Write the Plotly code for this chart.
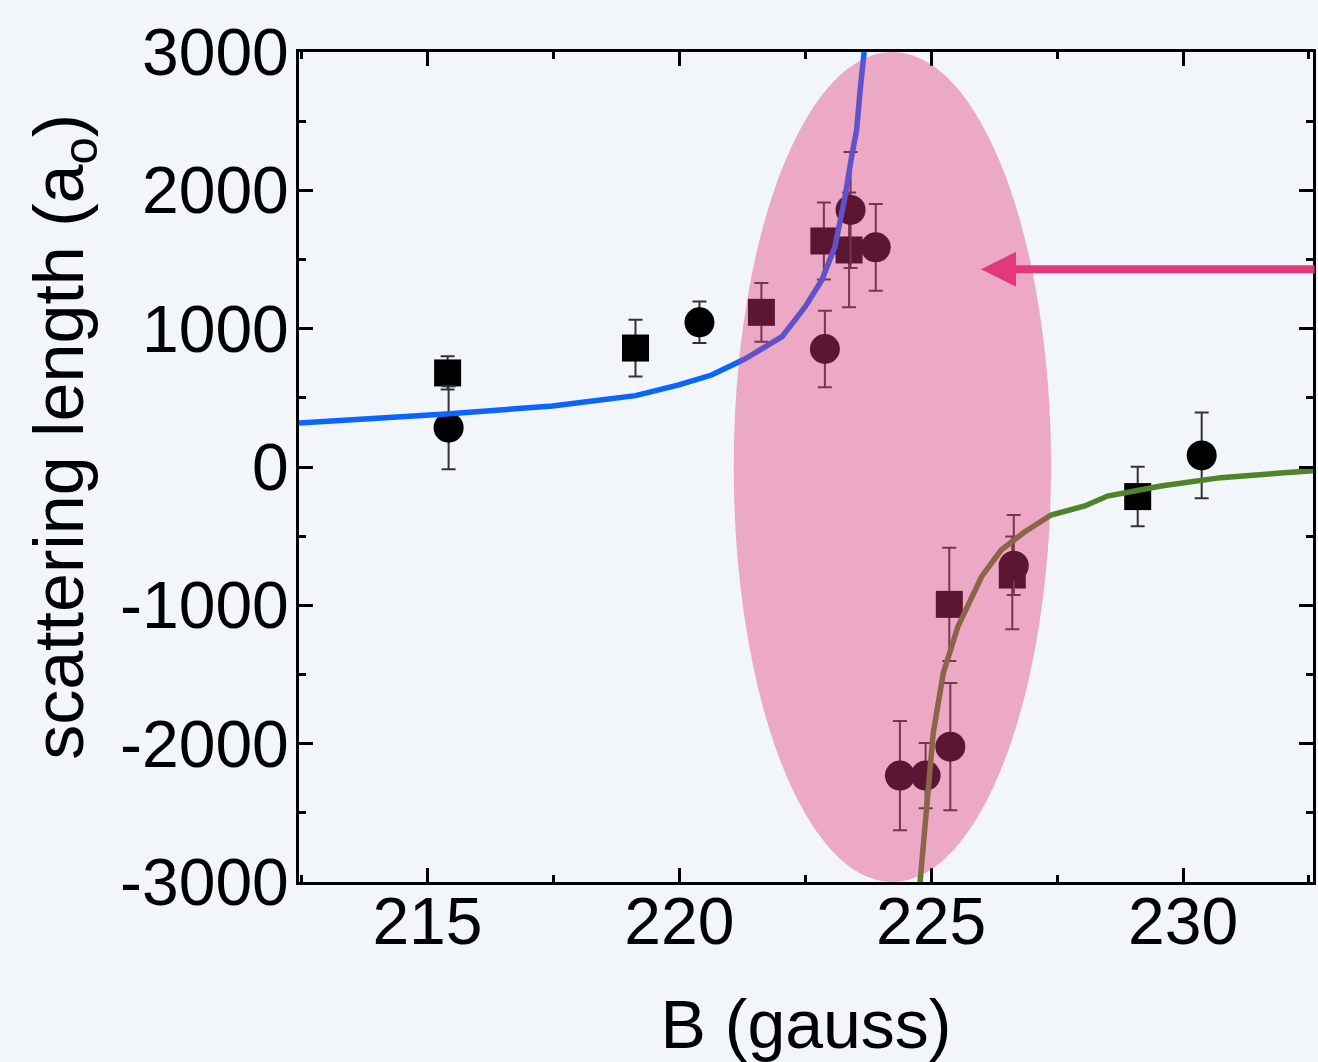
import plotly.graph_objects as go

# ---- data ----
sq_B = [215.40, 219.13, 221.63, 222.87, 223.37, 225.36, 226.61, 229.10]
sq_a = [680, 860, 1118, 1634, 1569, -993, -781, -214]
sq_err_plus = [120, 205, 212, 278, 415, 410, 278, 215]
sq_err_minus = [120, 205, 212, 278, 415, 410, 392, 215]

ci_B = [215.42, 220.40, 222.89, 223.40, 223.90, 225.38, 224.38, 224.89, 226.64, 230.37]
ci_a = [284, 1046, 853, 1858, 1588, -2022, -2231, -2231, -713, 84]
ci_err_plus = [300, 150, 276, 420, 314, 460, 395, 235, 366, 310]
ci_err_minus = [300, 150, 276, 420, 314, 460, 395, 235, 213, 310]

blue_B = [212.45, 214.05, 215.37, 217.48, 219.13, 219.99, 220.64, 221.30, 222.04,
          222.50, 222.83, 223.09, 223.29, 223.42, 223.52, 223.59, 223.67]
blue_a = [318, 354, 383, 441, 516, 593, 665, 780, 942,
          1159, 1352, 1593, 1954, 2243, 2436, 2725, 3000]

green_B = [224.78, 224.91, 225.04, 225.24, 225.53, 226.00, 226.39, 226.86, 227.38,
           228.05, 228.50, 229.56, 230.75, 231.87, 232.58]
green_a = [-3000, -2407, -1925, -1491, -1154, -793, -600, -468, -347,
           -282, -210, -137, -77, -46, -27]

x_ticks = [215, 220, 225, 230]
x_ticktext = ["215", "220", "225", "230"]
y_ticks = [-3000, -2000, -1000, 0, 1000, 2000, 3000]
y_ticktext = ["-3000", "-2000", "-1000", "0", "1000", "2000", "3000"]

x_range = [212.45, 232.58]
y_range = [-3000, 3000]
ellipse_B = [221.08, 227.38]
arrow_tip = (225.99, 1429)

FONT = "Liberation Sans, Arial, Helvetica, sans-serif"
BG = "#f2f5f9"
PINK = "#e3387a"

fig = go.Figure()

err_style = dict(type="data", symmetric=False, color="#333333", thickness=2, width=7)

fig.add_trace(go.Scatter(
    x=sq_B, y=sq_a, mode="markers",
    marker=dict(symbol="square", size=27, color="black"),
    error_y=dict(array=sq_err_plus, arrayminus=sq_err_minus, **err_style),
    showlegend=False, cliponaxis=False))

fig.add_trace(go.Scatter(
    x=ci_B, y=ci_a, mode="markers",
    marker=dict(symbol="circle", size=30, color="black"),
    error_y=dict(array=ci_err_plus, arrayminus=ci_err_minus, **err_style),
    showlegend=False, cliponaxis=False))

fig.add_trace(go.Scatter(
    x=blue_B, y=blue_a, mode="lines",
    line=dict(color="#0a64ff", width=5.5),
    showlegend=False))

fig.add_trace(go.Scatter(
    x=green_B, y=green_a, mode="lines",
    line=dict(color="#508428", width=5.5),
    showlegend=False))

# translucent pink ellipse over everything
fig.add_shape(type="circle", xref="x", yref="y",
              x0=ellipse_B[0], x1=ellipse_B[1], y0=y_range[0], y1=y_range[1],
              fillcolor="rgba(227,56,122,0.4)", line=dict(width=0), layer="above")

# arrow
fig.add_annotation(x=arrow_tip[0], y=arrow_tip[1], xref="x", yref="y",
                   ax=335, ay=0, text="", showarrow=True,
                   arrowhead=2, arrowwidth=8, arrowsize=0.875, arrowcolor=PINK,
                   standoff=0)

# y title as annotation
fig.add_annotation(xref="paper", yref="paper", x=-0.232, y=0.536,
                   text="scattering length (a<sub>o</sub>)", textangle=-90,
                   showarrow=False, xanchor="center", yanchor="middle",
                   font=dict(family=FONT, size=70, color="black"))

axis_common = dict(
    showline=True, linewidth=3, linecolor="black", mirror="ticks",
    ticks="inside", ticklen=14, tickwidth=3, tickcolor="black",
    showgrid=False, zeroline=False,
    tickfont=dict(family=FONT, size=66, color="black"),
)

fig.update_xaxes(range=x_range, tickmode="array", tickvals=x_ticks, ticktext=x_ticktext,
                 ticklabelstandoff=-20,
                 minor=dict(tickmode="linear", tick0=212.5, dtick=2.5, ticklen=7, tickwidth=3,
                            tickcolor="black", ticks="inside"),
                 title=dict(text="B (gauss)", font=dict(family=FONT, size=68, color="black"), standoff=48),
                 **axis_common)
fig.update_yaxes(range=y_range, tickmode="array", tickvals=y_ticks, ticktext=y_ticktext,
                 ticklabelstandoff=-6,
                 minor=dict(tickmode="linear", tick0=0, dtick=500, ticklen=7, tickwidth=3,
                            tickcolor="black", ticks="inside"),
                 **axis_common)

fig.update_layout(
    width=1318, height=1062,
    margin=dict(l=299, r=2, t=52, b=180, pad=0),
    paper_bgcolor=BG, plot_bgcolor=BG,
    font=dict(family=FONT, color="black"),
)

fig.write_html("out.html")
